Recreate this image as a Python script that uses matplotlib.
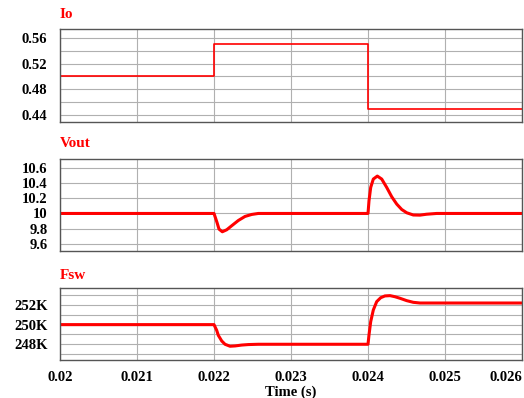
import matplotlib
matplotlib.use("Agg")
import matplotlib.pyplot as plt
from matplotlib.ticker import MultipleLocator, FuncFormatter

# output current step (A)
io_t = [0.02, 0.022, 0.024, 0.026]
io_v = [0.50, 0.55, 0.45, 0.45]

# output voltage (V)
vout_t = [0.02, 0.022, 0.022039, 0.022065, 0.022108, 0.022165, 0.02223, 0.022316,
          0.022403, 0.02249, 0.022575, 0.024, 0.024013, 0.024035, 0.024069, 0.024121,
          0.024178, 0.024243, 0.024308, 0.024373, 0.024438, 0.024503, 0.024588,
          0.024675, 0.024762, 0.024892, 0.026]
vout_v = [10.0, 10.0, 9.882, 9.795, 9.760, 9.786, 9.839, 9.908,
          9.961, 9.987, 10.0, 10.0, 10.166, 10.341, 10.451, 10.49,
          10.451, 10.341, 10.219, 10.123, 10.052, 10.009, 9.980,
          9.978, 9.99, 10.0, 10.0]

# switching frequency (kHz)
fsw_t = [0.02, 0.022, 0.022035, 0.022056, 0.0221, 0.022143, 0.022208, 0.022273,
         0.02236, 0.022446, 0.022576, 0.022749, 0.024, 0.024013, 0.024035, 0.024069,
         0.024113, 0.024165, 0.02422, 0.024286, 0.02435, 0.024416, 0.024503,
         0.024588, 0.024675, 0.026]
fsw_v = [250.0, 250.0, 249.42, 248.91, 248.34, 248.0, 247.8, 247.83,
         247.92, 247.97, 248.0, 248.0, 248.0, 248.95, 250.3, 251.49,
         252.34, 252.74, 252.92, 252.95, 252.84, 252.68, 252.44,
         252.27, 252.2, 252.2]

x_ticks = [0.02, 0.021, 0.022, 0.023, 0.024, 0.025, 0.026]

plt.rcParams["font.family"] = ["Liberation Serif", "DejaVu Serif"]
plt.rcParams["font.weight"] = "bold"

fig = plt.figure(figsize=(5.24, 3.98), dpi=100)
left, width = 60 / 524, 462 / 524
ax1 = fig.add_axes([left, 0.6935, width, 0.2337])
ax2 = fig.add_axes([left, 0.3686, width, 0.2327])
ax3 = fig.add_axes([left, 0.0955, width, 0.1802])

red = "#ff0000"
ax1.plot(io_t, io_v, color=red, lw=1.2, drawstyle="steps-post")
ax2.plot(vout_t, vout_v, color=red, lw=2.2, solid_joinstyle="round")
ax3.plot(fsw_t, fsw_v, color=red, lw=2.2, solid_joinstyle="round")

ax1.set_ylim(0.4297, 0.5734)
ax1.set_yticks([0.44, 0.48, 0.52, 0.56])
ax1.yaxis.set_minor_locator(MultipleLocator(0.02))
ax1.yaxis.set_major_formatter(FuncFormatter(lambda v, p: f"{v:.2f}"))

ax2.set_ylim(9.504, 10.718)
ax2.set_yticks([9.6, 9.8, 10.0, 10.2, 10.4, 10.6])
ax2.yaxis.set_major_formatter(FuncFormatter(lambda v, p: f"{v:g}"))

ax3.set_ylim(246.4, 253.7)
ax3.set_yticks([248, 250, 252])
ax3.yaxis.set_minor_locator(MultipleLocator(1))
ax3.yaxis.set_major_formatter(FuncFormatter(lambda v, p: f"{v:.0f}K"))

for ax, title in zip((ax1, ax2, ax3), ("Io", "Vout", "Fsw")):
    ax.set_xlim(0.02, 0.026)
    ax.set_xticks(x_ticks)
    ax.grid(True, which="both", color="#b0b0b0", lw=0.8)
    ax.set_axisbelow(True)
    ax.tick_params(axis="both", which="both", length=0, labelsize=10.5, pad=9)
    for s in ax.spines.values():
        s.set_color("#555555")
        s.set_linewidth(1.0)
    ax.text(0.0, 1.09, title, transform=ax.transAxes, color=red,
            fontsize=11, fontweight="bold", ha="left", va="bottom")

ax1.tick_params(axis="x", labelbottom=False)
ax2.tick_params(axis="x", labelbottom=False)
ax3.set_xticklabels([f"{t:g}" for t in x_ticks])
ax3.get_xticklabels()[-1].set_horizontalalignment("right")
ax3.tick_params(axis="x", pad=8)
ax3.set_xlabel("Time (s)", fontsize=10.5, fontweight="bold", labelpad=1)

fig.savefig("out.png", dpi=100)
